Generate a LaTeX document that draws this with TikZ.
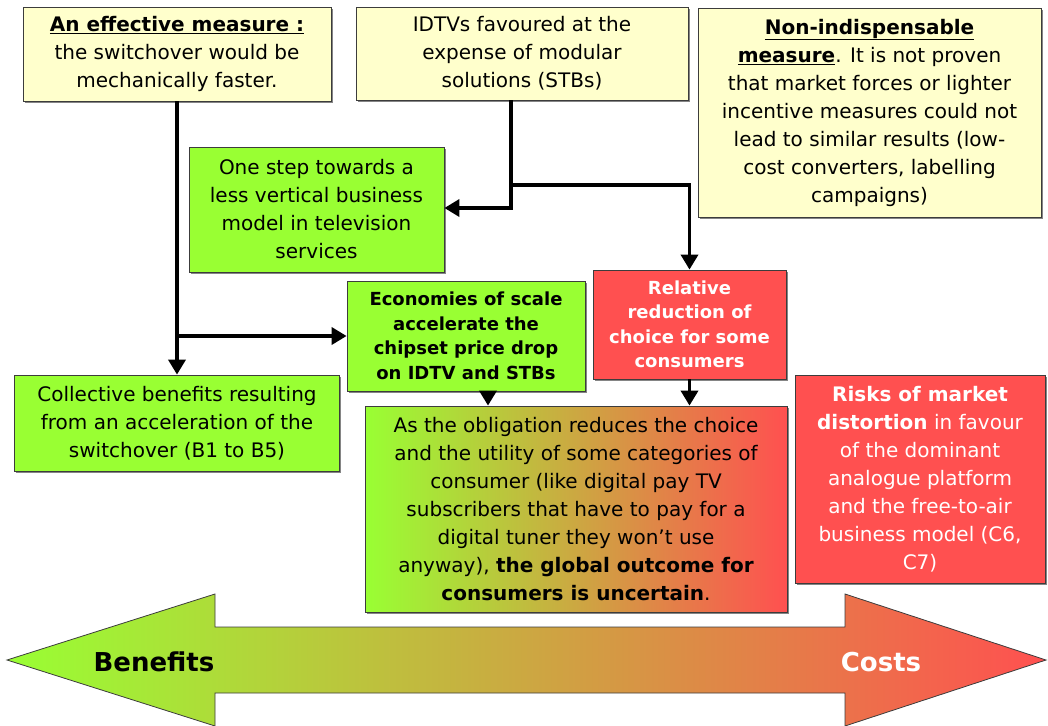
\documentclass[tikz,border=0pt]{standalone}
\usepackage{fontspec}
\setmainfont{DejaVu Sans}
\usetikzlibrary{arrows.meta,shadows}

\definecolor{boxyellow}{RGB}{255,255,204}
\definecolor{boxgreen}{RGB}{153,255,51}
\definecolor{boxred}{RGB}{255,80,80}
\definecolor{edgegray}{RGB}{60,60,60}

\begin{document}
\begin{tikzpicture}[x=1pt,y=-1pt,
  box/.style={draw=edgegray, line width=0.8pt, inner sep=0pt, align=center,
    font=\fontsize{20}{28}\selectfont,
    drop shadow={shadow xshift=1.6pt, shadow yshift=-1.6pt, fill=black!60, opacity=0.8}},
  yellowbox/.style={box, fill=boxyellow},
  greenbox/.style={box, fill=boxgreen},
  redbox/.style={box, fill=boxred, text=white},
  smallbold/.style={font=\fontsize{18}{24.5}\selectfont\bfseries},
  conn/.style={line width=3.5pt, -{Triangle[width=17pt,length=15pt]}},
  bigword/.style={font=\fontsize{26}{30}\selectfont\bfseries, inner sep=0pt}
]
\useasboundingbox (0,0) rectangle (1048,725);

% top row of statements
\node[yellowbox, minimum width=308, minimum height=94] (tl) at (177,54)
  {\underline{\textbf{An effective measure :}}\\the switchover would be\\mechanically faster.};
\node[yellowbox, minimum width=332, minimum height=93] (tm) at (522,53.5)
  {IDTVs favoured at the\\expense of modular\\solutions (STBs)};
\node[yellowbox, minimum width=343, minimum height=209] (tr) at (869.5,112.5)
  {\underline{\textbf{Non-indispensable}}\\\underline{\textbf{measure}}. It is not proven\\that market forces or lighter\\incentive measures could not\\lead to similar results (low-\\cost converters, labelling\\campaigns)};

% consequences
\node[greenbox, minimum width=255, minimum height=125] (green) at (316.5,209.5)
  {One step towards a\\less vertical business\\model in television\\services};
\node[greenbox, smallbold, minimum width=238, minimum height=110] (econ) at (466,336)
  {Economies of scale\\accelerate the\\chipset price drop\\on IDTV and STBs};
\node[redbox, smallbold, minimum width=193, minimum height=109] (red) at (689.5,324.5)
  {Relative\\reduction of\\choice for some\\consumers};
\node[greenbox, minimum width=325, minimum height=96] (coll) at (177,423)
  {Collective benefits resulting\\from an acceleration of the\\switchover (B1 to B5)};
\node[box, left color=boxgreen, right color=boxred, minimum width=422, minimum height=206] (grad) at (576,509)
  {As the obligation reduces the choice\\and the utility of some categories of\\consumer (like digital pay TV\\subscribers that have to pay for a\\digital tuner they won’t use\\anyway), \textbf{the global outcome for}\\\textbf{consumers is uncertain}.};
\node[redbox, minimum width=250, minimum height=208] (risk) at (920,479)
  {\textbf{Risks of market}\\\textbf{distortion} in favour\\of the dominant\\analogue platform\\and the free-to-air\\business model (C6,\\C7)};

% connectors
\coordinate (split) at (511,185);
\draw[conn] (tl.south) -- (tl.south |- coll.north);
\draw[conn] (tl.south |- econ.west) -- (econ.west);
\draw[line width=3.5pt] (tm.south -| split) -- (split);
\draw[conn] (split) -- (split |- 0,208) -- (green.east |- 0,208);
\draw[conn] (split) -- (split -| red.north) -- (red.north);
\draw[conn] ([xshift=22pt]econ.south) -- ([xshift=22pt]econ.south |- grad.north);
\draw[conn] (red.south) -- (red.south |- grad.north);

% benefits / costs double arrow
\draw[draw=edgegray, line width=0.8pt, left color=boxgreen, right color=boxred]
  (7,660) -- (215,594) -- (215,627) -- (845,627) -- (845,594) -- (1046,660)
  -- (845,726) -- (845,693) -- (215,693) -- (215,726) -- cycle;
\node[bigword] (benefits) at (154,662) {Benefits};
\node[bigword, text=white] (costs) at (881,662) {Costs};
\end{tikzpicture}
\end{document}
